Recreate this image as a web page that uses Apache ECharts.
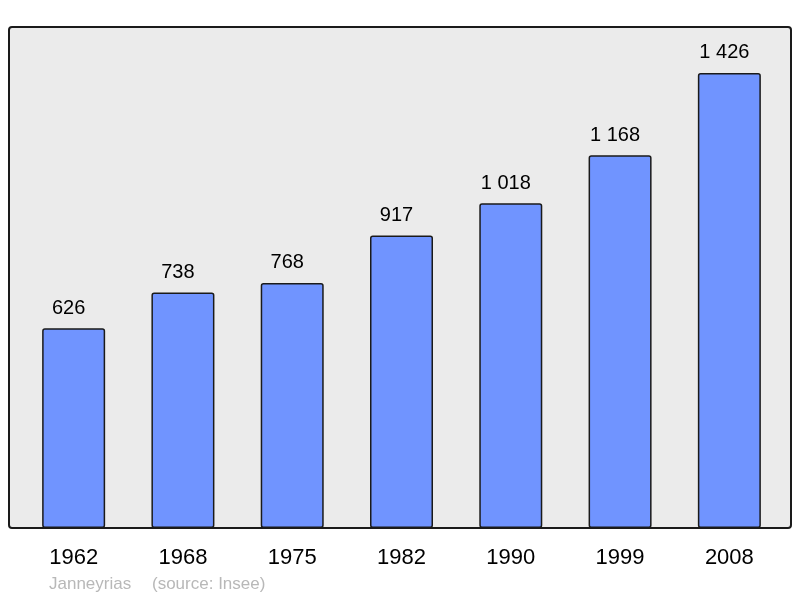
<!DOCTYPE html>
<html>
<head>
<meta charset="utf-8">
<title>Janneyrias</title>
<script src="https://cdn.jsdelivr.net/npm/echarts@6/dist/echarts.min.js"></script>
<style>
  body { margin: 0; background: #fff; }
  #main { width: 800px; height: 598px; }
</style>
</head>
<body>
<div id="main"></div>
<script>
// population by census year
var years = ['1962', '1968', '1975', '1982', '1990', '1999', '2008'];
var population = [626, 738, 768, 917, 1018, 1168, 1426];
var footerName = 'Janneyrias';
var footerSource = '(source: Insee)';

function fmt(v) {
    // thousands with a space, french style
    return String(v).replace(/\B(?=(\d{3})+(?!\d))/g, ' ');
}

var myChart = echarts.init(document.getElementById('main'), null, { renderer: 'canvas' });

var option = {
    animation: false,
    textStyle: { fontFamily: 'Liberation Sans, Arial, sans-serif' },
    graphic: [
        {
            type: 'rect',
            z: -10,
            shape: { x: 9, y: 27, width: 782, height: 501, r: 3 },
            style: { fill: '#ebebeb', stroke: '#1a1a1a', lineWidth: 2 }
        },
        {
            type: 'text',
            left: 49, top: 576,
            style: { text: footerName, fill: '#b8b8b8', fontSize: 17, fontFamily: 'Liberation Sans, Arial, sans-serif' }
        },
        {
            type: 'text',
            left: 152, top: 576,
            style: { text: footerSource, fill: '#b8b8b8', fontSize: 17, fontFamily: 'Liberation Sans, Arial, sans-serif' }
        }
    ],
    grid: { left: 19, width: 765, top: 27, height: 501, containLabel: false },
    xAxis: {
        type: 'category',
        data: years,
        axisLine: { show: false },
        axisTick: { show: false },
        axisLabel: { color: '#000', fontSize: 22, margin: 19 }
    },
    yAxis: {
        type: 'value',
        min: 0,
        max: 1570,
        show: false,
        splitLine: { show: false }
    },
    series: [{
        type: 'bar',
        data: population,
        barWidth: 63,
        itemStyle: {
            color: '#7094ff',
            borderColor: '#1a1a1a',
            borderWidth: 1.5,
            borderRadius: 2
        },
        label: {
            show: true,
            position: 'top',
            distance: 10,
            offset: [-5, 0],
            color: '#000',
            fontSize: 20,
            formatter: function (p) { return fmt(p.value); }
        }
    }]
};

myChart.setOption(option);
</script>
</body>
</html>
